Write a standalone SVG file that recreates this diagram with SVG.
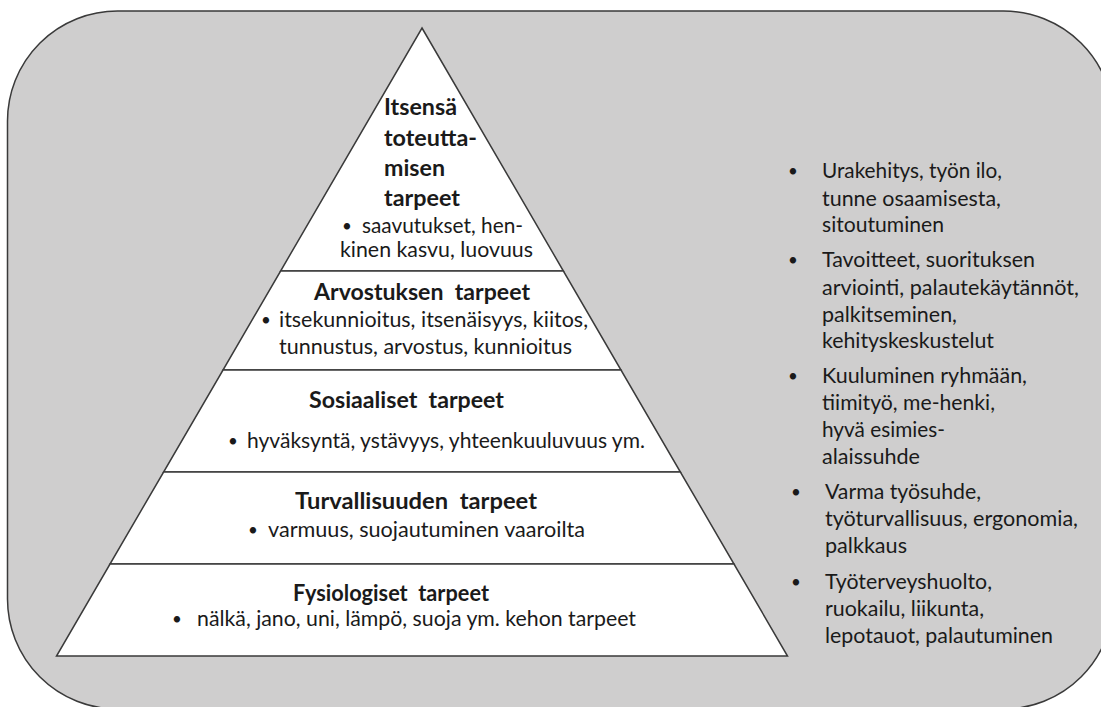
<svg xmlns="http://www.w3.org/2000/svg" width="1101" height="707" viewBox="0 0 1101 707">
<style>
.bg{fill:#cfcece;stroke:#3a3a3a;stroke-width:1.5}
.band{fill:#ffffff;stroke:#3a3a3a;stroke-width:1.5;stroke-linejoin:miter}
text{font-family:Lato,"Open Sans","Liberation Sans",sans-serif;fill:#1a1a1a;font-size:21.5px}
.t{font-weight:bold;font-size:22px}
.b{font-size:17px}
</style>
<rect width="1101" height="707" fill="#ffffff"/>
<g id="background"><rect class="bg" x="7.5" y="11" width="1106" height="698" rx="110" ry="110"/></g>
<g id="connectors"></g>
<g id="level-self-actualization">
<polygon class="band" points="422,28 563.4,271 280.6,271"/>
<text class="t" x="384" y="115" textLength="73" lengthAdjust="spacingAndGlyphs">Itsensä</text>
<text class="t" x="384" y="146" textLength="93" lengthAdjust="spacingAndGlyphs">toteutta-</text>
<text class="t" x="384" y="176" textLength="61" lengthAdjust="spacingAndGlyphs">misen</text>
<text class="t" x="384" y="206" textLength="76" lengthAdjust="spacingAndGlyphs">tarpeet</text>
<text class="b" x="342" y="232">•</text>
<text x="362" y="233" textLength="161" lengthAdjust="spacingAndGlyphs">saavutukset, hen-</text>
<text x="340" y="257" textLength="193" lengthAdjust="spacingAndGlyphs">kinen kasvu, luovuus</text>
</g>
<g id="level-esteem">
<polygon class="band" points="280.6,271 563.4,271 621,370 223,370"/>
<text class="t" x="314" y="300" xml:space="preserve" textLength="216" lengthAdjust="spacingAndGlyphs">Arvostuksen  tarpeet</text>
<text class="b" x="261" y="326">•</text>
<text x="279" y="327" textLength="309" lengthAdjust="spacingAndGlyphs">itsekunnioitus, itsenäisyys, kiitos,</text>
<text x="279" y="354" textLength="293" lengthAdjust="spacingAndGlyphs">tunnustus, arvostus, kunnioitus</text>
</g>
<g id="level-social">
<polygon class="band" points="223,370 621,370 680.4,472 163.6,472"/>
<text class="t" x="309" y="408" xml:space="preserve" textLength="195" lengthAdjust="spacingAndGlyphs">Sosiaaliset  tarpeet</text>
<text class="b" x="228" y="447">•</text>
<text x="247" y="448" textLength="398" lengthAdjust="spacingAndGlyphs">hyväksyntä, ystävyys, yhteenkuuluvuus ym.</text>
</g>
<g id="level-safety">
<polygon class="band" points="163.6,472 680.4,472 734,564 110,564"/>
<text class="t" x="295" y="509" xml:space="preserve" textLength="242" lengthAdjust="spacingAndGlyphs">Turvallisuuden  tarpeet</text>
<text class="b" x="248" y="536">•</text>
<text x="268" y="537" textLength="317" lengthAdjust="spacingAndGlyphs">varmuus, suojautuminen vaaroilta</text>
</g>
<g id="level-physiological">
<polygon class="band" points="110,564 734,564 787.5,656 56.5,656"/>
<text class="t" x="293" y="601" xml:space="preserve" textLength="196" lengthAdjust="spacingAndGlyphs">Fysiologiset  tarpeet</text>
<text class="b" x="172" y="625">•</text>
<text x="197" y="626" textLength="439" lengthAdjust="spacingAndGlyphs">nälkä, jano, uni, lämpö, suoja ym. kehon tarpeet</text>
</g>
<g id="item-1">
<text class="b" x="788" y="177">•</text>
<text x="822" y="178" textLength="180" lengthAdjust="spacingAndGlyphs">Urakehitys, työn ilo,</text>
<text x="822" y="206" textLength="179" lengthAdjust="spacingAndGlyphs">tunne osaamisesta,</text>
<text x="822" y="232" textLength="122" lengthAdjust="spacingAndGlyphs">sitoutuminen</text>
</g>
<g id="item-2">
<text class="b" x="788" y="266">•</text>
<text x="822" y="267" textLength="213" lengthAdjust="spacingAndGlyphs">Tavoitteet, suorituksen</text>
<text x="822" y="295" textLength="257" lengthAdjust="spacingAndGlyphs">arviointi, palautekäytännöt,</text>
<text x="822" y="322" textLength="135" lengthAdjust="spacingAndGlyphs">palkitseminen,</text>
<text x="822" y="348" textLength="172" lengthAdjust="spacingAndGlyphs">kehityskeskustelut</text>
</g>
<g id="item-3">
<text class="b" x="788" y="382">•</text>
<text x="822" y="383" textLength="205" lengthAdjust="spacingAndGlyphs">Kuuluminen ryhmään,</text>
<text x="822" y="410" textLength="173" lengthAdjust="spacingAndGlyphs">tiimityö, me-henki,</text>
<text x="822" y="437" textLength="123" lengthAdjust="spacingAndGlyphs">hyvä esimies-</text>
<text x="822" y="464" textLength="98" lengthAdjust="spacingAndGlyphs">alaissuhde</text>
</g>
<g id="item-4">
<text class="b" x="791" y="498">•</text>
<text x="825" y="499" textLength="156" lengthAdjust="spacingAndGlyphs">Varma työsuhde,</text>
<text x="825" y="526" textLength="253" lengthAdjust="spacingAndGlyphs">työturvallisuus, ergonomia,</text>
<text x="825" y="553" textLength="82" lengthAdjust="spacingAndGlyphs">palkkaus</text>
</g>
<g id="item-5">
<text class="b" x="791" y="588">•</text>
<text x="825" y="589" textLength="167" lengthAdjust="spacingAndGlyphs">Työterveyshuolto,</text>
<text x="825" y="616" textLength="159" lengthAdjust="spacingAndGlyphs">ruokailu, liikunta,</text>
<text x="825" y="643" textLength="228" lengthAdjust="spacingAndGlyphs">lepotauot, palautuminen</text>
</g>
</svg>
